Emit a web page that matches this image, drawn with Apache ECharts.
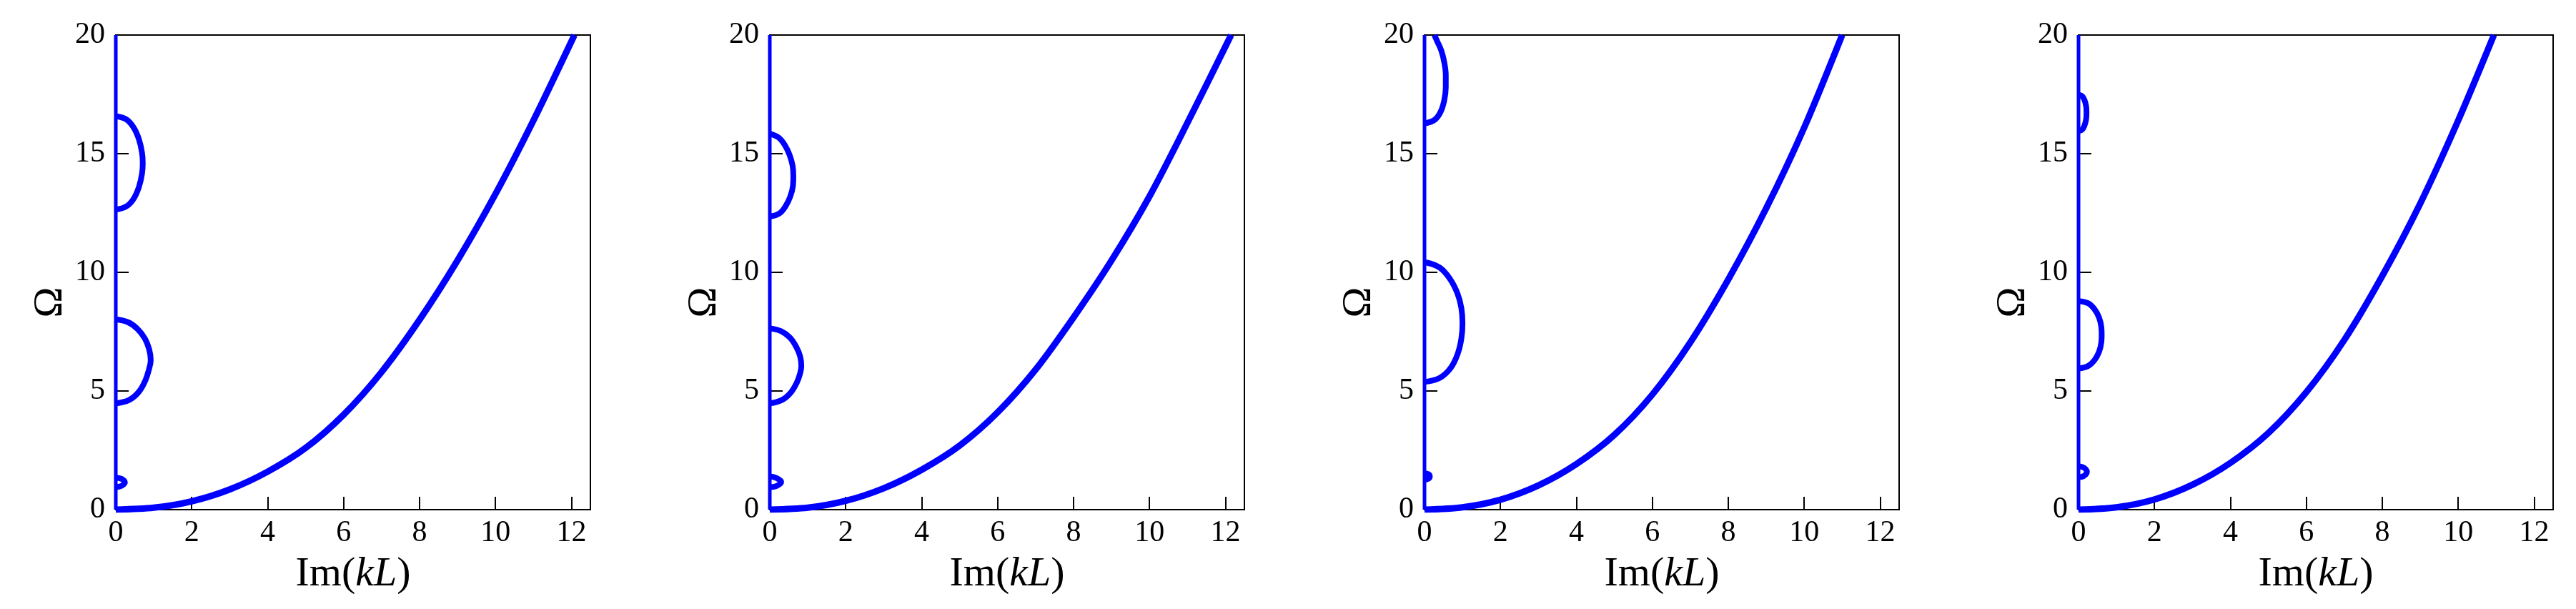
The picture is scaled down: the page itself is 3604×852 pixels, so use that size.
<!DOCTYPE html>
<html><head><meta charset="utf-8">
<script src="https://cdn.jsdelivr.net/npm/echarts@6/dist/echarts.min.js"></script>
<style>html,body{margin:0;padding:0;background:#fff}#c{width:3604px;height:852px}</style>
</head><body><div id="c"></div>
<script>
// ---- tick labels / axis names ----
const xTicks = [0, 2, 4, 6, 8, 10, 12];
const yTicks = [0, 5, 10, 15, 20];
const xName = 'Im({i|kL})';
const yName = 'Ω';
const xRange = [0, 12.5];
const yRange = [0, 20];

// ---- data: [Im(kL), Ω] ----
const imagAxisBranch = [[0, 0], [0, 20]];

// panel 1
const main1 = [[0,0],[1,0.08],[2,0.35],[3,0.85],[4,1.6],[5,2.6],[6,4.0],[7,5.8],[8,8.0],[9,10.5],[10,13.3],[11,16.4],[12.08,20]];
const loopA1 = [[0,4.48],[0.35,4.62],[0.6,4.95],[0.78,5.45],[0.88,5.95],[0.92,6.3],[0.88,6.75],[0.77,7.2],[0.57,7.62],[0.32,7.9],[0,8.02]];
const loopB1 = [[0,12.64],[0.28,12.78],[0.47,13.1],[0.61,13.6],[0.69,14.15],[0.71,14.6],[0.69,15.05],[0.61,15.6],[0.47,16.1],[0.28,16.44],[0,16.58]];
const blob1 = [[0,0.95],[0.15,1.0],[0.24,1.15],[0.15,1.3],[0,1.35]];

// panel 2
const main2 = [[0,0],[1,0.08],[2,0.37],[3,0.9],[4,1.68],[5,2.7],[6,4.1],[7,5.9],[8,8.1],[9,10.5],[10,13.2],[11,16.3],[12.15,20]];
const loopA2 = [[0,4.48],[0.32,4.62],[0.55,4.93],[0.71,5.35],[0.8,5.75],[0.83,6.05],[0.8,6.45],[0.7,6.85],[0.53,7.25],[0.3,7.52],[0,7.64]];
const loopB2 = [[0,12.35],[0.25,12.48],[0.42,12.8],[0.54,13.2],[0.61,13.65],[0.62,14.05],[0.6,14.5],[0.52,14.95],[0.4,15.35],[0.23,15.68],[0,15.84]];
const blob2 = [[0,0.95],[0.18,1.0],[0.3,1.17],[0.18,1.33],[0,1.4]];

// panel 3
const main3 = [[0,0],[1,0.1],[2,0.42],[3,1.02],[4,1.92],[5,3.15],[6,4.85],[7,7.05],[8,9.7],[9,12.7],[10,16.1],[11,20]];
const loopA3 = [[0,5.38],[0.4,5.55],[0.68,5.95],[0.87,6.55],[0.97,7.2],[1.0,7.85],[0.97,8.5],[0.87,9.1],[0.68,9.7],[0.4,10.2],[0,10.43]];
const loopB3 = [[0,16.28],[0.26,16.42],[0.42,16.75],[0.52,17.25],[0.56,17.8],[0.56,18.3],[0.52,18.85],[0.44,19.35],[0.33,19.75],[0.26,20]];
const blob3 = [[0,1.27],[0.1,1.3],[0.14,1.4],[0.1,1.5],[0,1.53]];

// panel 4
const main4 = [[0,0],[1,0.1],[2,0.43],[3,1.05],[4,1.97],[5,3.23],[6,4.95],[7,7.15],[8,9.85],[9,12.9],[10,16.4],[10.94,20]];
const loopA4 = [[0,5.95],[0.25,6.05],[0.42,6.3],[0.54,6.65],[0.6,7.05],[0.61,7.37],[0.6,7.7],[0.54,8.1],[0.42,8.45],[0.25,8.7],[0,8.79]];
const loopB4 = [[0,15.95],[0.1,16.02],[0.16,16.2],[0.2,16.45],[0.21,16.72],[0.2,17.0],[0.16,17.25],[0.1,17.42],[0,17.48]];
const blob4 = [[0,1.37],[0.14,1.42],[0.22,1.6],[0.14,1.77],[0,1.83]];

const panels = [
  { main: main1, loops: [loopA1, loopB1, blob1] },
  { main: main2, loops: [loopA2, loopB2, blob2] },
  { main: main3, loops: [loopA3, loopB3, blob3] },
  { main: main4, loops: [loopA4, loopB4, blob4] }
];

// ---- layout / style ----
const gridLefts = [162, 1077, 1993, 2908];
const FONT = '"Liberation Serif","Times New Roman",serif';
const BLUE = '#0000ff';

const grids = [], xAxes = [], yAxes = [], series = [];
panels.forEach((p, i) => {
  grids.push({ left: gridLefts[i], top: 49, width: 664, height: 664, show: true,
    borderColor: '#000', borderWidth: 2, backgroundColor: 'transparent' });
  xAxes.push({
    gridIndex: i, type: 'value', min: xRange[0], max: xRange[1],
    name: xName, nameLocation: 'middle', nameGap: 62,
    nameTextStyle: { fontFamily: FONT, fontSize: 58, color: '#000',
      rich: { i: { fontFamily: FONT, fontSize: 58, fontStyle: 'italic', color: '#000' } } },
    axisLine: { show: true, lineStyle: { color: '#000', width: 2 } },
    axisTick: { show: true, inside: true, length: 18, customValues: xTicks, lineStyle: { color: '#000', width: 2 } },
    axisLabel: { customValues: xTicks, fontFamily: FONT, fontSize: 42, color: '#000', margin: 12 },
    splitLine: { show: false }
  });
  yAxes.push({
    gridIndex: i, type: 'value', min: yRange[0], max: yRange[1],
    name: yName, nameLocation: 'middle', nameGap: 62,
    nameTextStyle: { fontFamily: FONT, fontSize: 58, color: '#000', padding: [0, 84, 0, 0] },
    axisLine: { show: true, lineStyle: { color: '#000', width: 2 } },
    axisTick: { show: true, inside: true, length: 18, customValues: yTicks, lineStyle: { color: '#000', width: 2 } },
    axisLabel: { customValues: yTicks, fontFamily: FONT, fontSize: 42, color: '#000', margin: 15 },
    splitLine: { show: false }
  });
  series.push({ type: 'line', xAxisIndex: i, yAxisIndex: i, data: imagAxisBranch,
    symbol: 'none', lineStyle: { color: BLUE, width: 5 }, z: 3 });
  series.push({ type: 'line', xAxisIndex: i, yAxisIndex: i, data: p.main,
    symbol: 'none', smooth: 0.3, lineStyle: { color: BLUE, width: 9 }, z: 4 });
  p.loops.forEach(l => series.push({ type: 'line', xAxisIndex: i, yAxisIndex: i, data: l,
    symbol: 'none', smooth: 0.4, lineStyle: { color: BLUE, width: 8 }, z: 4 }));
});

const chart = echarts.init(document.getElementById('c'), null, { renderer: 'canvas' });
chart.setOption({ animation: false, backgroundColor: '#fff', grid: grids, xAxis: xAxes, yAxis: yAxes, series });
</script></body></html>
